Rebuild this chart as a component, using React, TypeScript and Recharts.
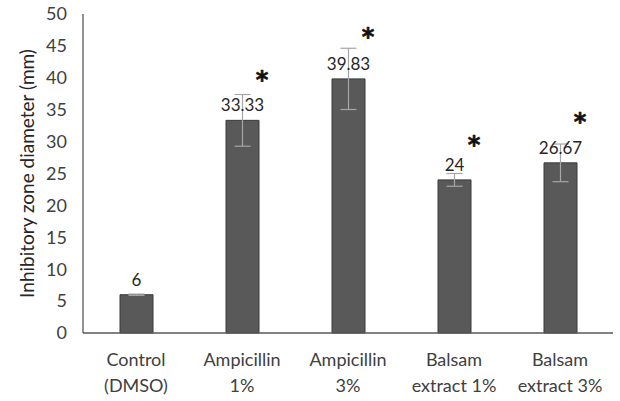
import React from "react";
import {
  ComposedChart,
  Bar,
  Scatter,
  XAxis,
  YAxis,
  ErrorBar,
  LabelList,
  Label,
} from "recharts";

const groups = [
  "Control\n(DMSO)",
  "Ampicillin\n1%",
  "Ampicillin\n3%",
  "Balsam\nextract 1%",
  "Balsam\nextract 3%",
];
const zoneMean = [6, 33.33, 39.83, 24, 26.67];
const zoneSd = [0.1, 4.05, 4.8, 1.0, 2.95];
// height (mm scale) where the significance asterisk sits; null = none
const sigAt = [null, 40.2, 46.8, 29.9, 33.5];
const yTicks = [0, 5, 10, 15, 20, 25, 30, 35, 40, 45, 50];

const rows = groups.map((g, i) => ({
  group: g,
  mean: zoneMean[i],
  sd: zoneSd[i],
  sig: sigAt[i],
}));

const FONT = "Lato, 'Open Sans', sans-serif";

function GroupTick({ x, y, payload }: any) {
  const lines = String(payload.value).split("\n");
  return (
    <text x={x} y={y} textAnchor="middle" fill="#404040" fontSize={18} fontFamily={FONT}>
      {lines.map((l, i) => (
        <tspan key={i} x={x} dy={i === 0 ? 33 : 26}>
          {l}
        </tspan>
      ))}
    </text>
  );
}

function Star({ cx, cy }: any) {
  if (cx == null || cy == null || Number.isNaN(cy)) return null;
  return (
    <text
      x={cx + 20}
      y={cy + 11}
      textAnchor="middle"
      fontSize={24}
      fontWeight="bold"
      fontFamily="'DejaVu Sans', sans-serif"
      fill="#111"
      stroke="#111"
      strokeWidth={0.6}
    >
      *
    </text>
  );
}

export default function App() {
  return (
    <div style={{ position: "absolute", left: 0, top: 0, background: "#fff" }}>
      <ComposedChart
        width={620}
        height={401}
        data={rows}
        margin={{ top: 14, right: 7, bottom: 0, left: 0 }}
        barCategoryGap={36}
      >
        <XAxis
          dataKey="group"
          type="category"
          height={68}
          tick={<GroupTick />}
          tickLine={false}
          tickSize={0}
          tickMargin={0}
          axisLine={{ stroke: "#595959", strokeWidth: 1.5 }}
          interval={0}
        />
        <YAxis
          type="number"
          domain={[0, 50]}
          ticks={yTicks}
          width={83}
          tickLine={false}
          tickSize={0}
          tickMargin={16}
          axisLine={{ stroke: "#262626" }}
          tick={{ fontSize: 18, fill: "#404040", fontFamily: FONT }}
          interval={0}
        >
          <Label
            value="Inhibitory zone diameter (mm)"
            angle={-90}
            position="center"
            dx={-14}
            style={{ fontSize: 19, fill: "#262626", fontFamily: FONT, textAnchor: "middle" }}
          />
        </YAxis>
        <Bar
          dataKey="mean"
          fill="#595959"
          stroke="#3a3a3a"
          strokeWidth={1}
          barSize={33}
          isAnimationActive={false}
        >
          <ErrorBar dataKey="sd" width={8} stroke="#a6a6a6" strokeWidth={1.2} />
          <LabelList
            dataKey="mean"
            position="top"
            offset={9}
            style={{ fontSize: 17, fill: "#262626", fontFamily: FONT }}
          />
        </Bar>
        <Scatter dataKey="sig" shape={<Star />} isAnimationActive={false} />
      </ComposedChart>
    </div>
  );
}
